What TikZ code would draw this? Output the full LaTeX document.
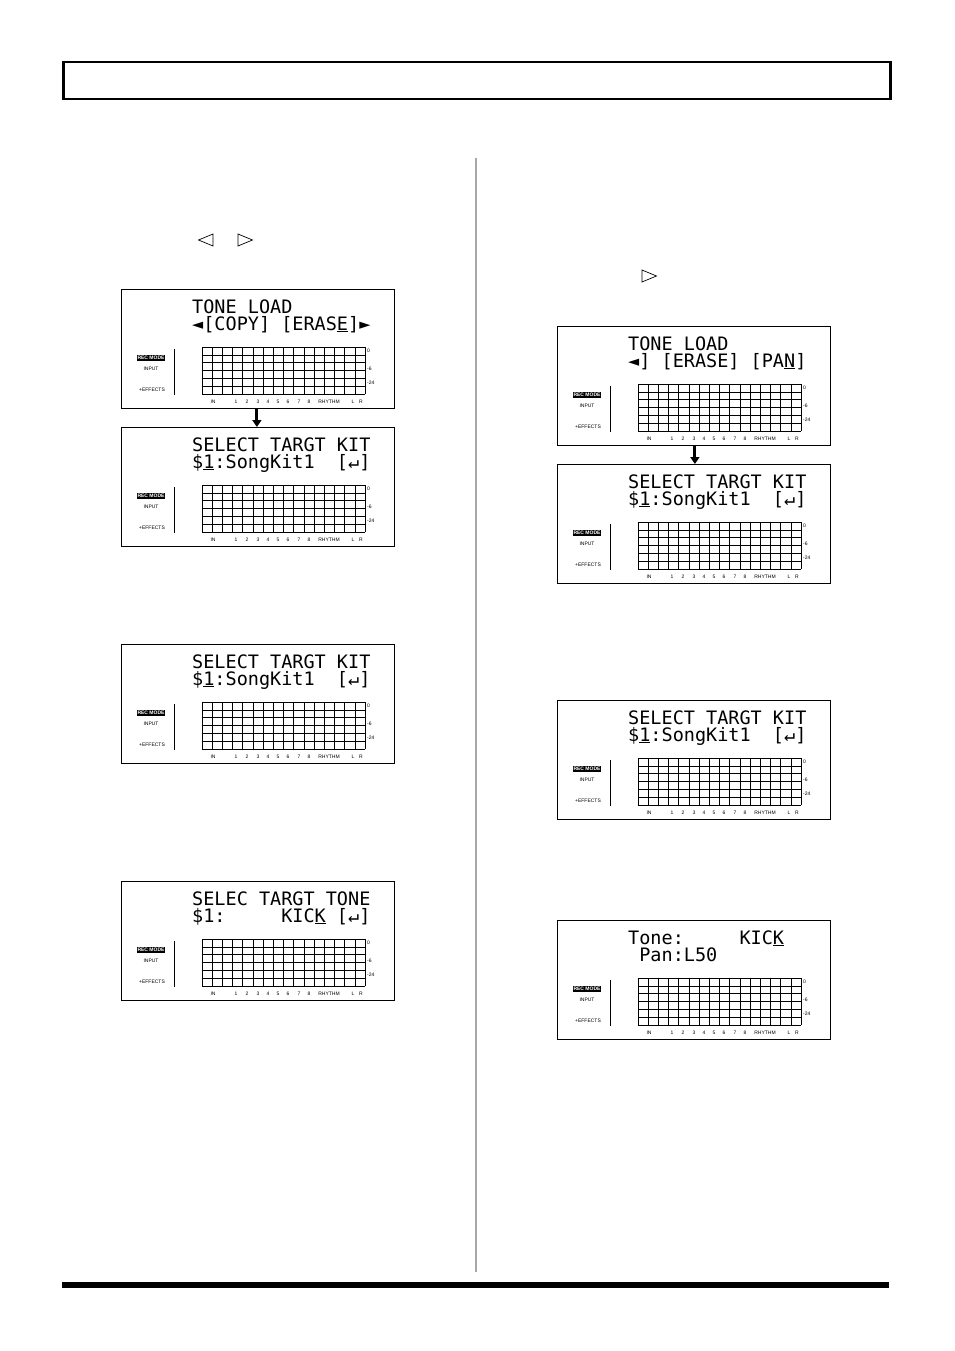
\documentclass[tikz,border=0pt]{standalone}
\usepackage{fontspec}
\usetikzlibrary{arrows.meta,shapes.geometric}
\setsansfont{Liberation Sans}
\newfontfamily\lcdfont{DejaVu Sans Mono}
\begin{document}
\begin{tikzpicture}[x=1pt,y=-1pt,
  lcdtxt/.style={anchor=base west,inner sep=0pt,font=\lcdfont\fontsize{18.5}{18.5}\selectfont},
  tiny/.style={inner sep=0pt,font=\sffamily\fontsize{5}{5}\selectfont},
  panel/.style={draw,line width=0.8pt},
  darr/.style={-{Triangle[width=9pt,length=7pt]},line width=3pt},
  tri/.style={draw,isosceles triangle,minimum height=8,minimum width=12,inner sep=0,line width=0.7pt}]
\useasboundingbox (0,0) rectangle (954,1351);
\node[draw,line width=2.5pt,minimum width=827,minimum height=37,anchor=north west,inner sep=0] (hdr) at (62,61) {};
\fill (62,1282) rectangle (889,1288);
\draw[gray!70,line width=1.2pt] (476,158) -- (476,1272);
\newcommand{\lcd}[5]{%
\begin{scope}[shift={(#1,#2)}]
 \node[panel,minimum width=273,minimum height=119,anchor=north west,inner sep=0] (#3) at (0,0) {};
 \foreach \i in {0,...,16} \draw[line width=0.6pt] ({81+\i*10.1875},58) -- ({81+\i*10.1875},105);
 \foreach \j in {0,...,6} \draw[line width=0.6pt] (81,{58+\j*7.833}) -- (244,{58+\j*7.833});
 \node[tiny,fill=black,text=white,inner sep=0.8pt] at (30,69) {\textbf{REC MODE}};
 \node[tiny] at (30,80) {INPUT};
 \node[tiny] at (31,101) {+EFFECTS};
 \draw[line width=0.8pt] (53,60) -- (53,106);
 \node[tiny,anchor=west] at (246,62) {0};
 \node[tiny,anchor=west] at (246,80) {-6};
 \node[tiny,anchor=west] at (246,94) {-24};
 \foreach \t/\xx in {IN/92,1/115,2/126,3/137,4/147,5/157,6/167,7/178,8/188,RHYTHM/208,L/232,R/240}
   \node[tiny] at (\xx,113) {\t};
 \node[lcdtxt] at (71,24) {#4};
 \node[lcdtxt] at (71,41) {#5};
\end{scope}}
\lcd{121}{289}{la}{TONE~LOAD}{◄[COPY]~[ERAS\underline{E}]►}
\lcd{121}{427}{lb}{SELECT~TARGT~KIT}{\$\underline{1}:SongKit1~~[↵]}
\lcd{121}{644}{lc}{SELECT~TARGT~KIT}{\$\underline{1}:SongKit1~~[↵]}
\lcd{121}{881}{ld}{SELEC~TARGT~TONE}{\$1:~~~~~KIC\underline{K}~[↵]}
\lcd{557}{326}{ra}{TONE~LOAD}{◄]~[ERASE]~[PA\underline{N}]}
\lcd{557}{464}{rb}{SELECT~TARGT~KIT}{\$\underline{1}:SongKit1~~[↵]}
\lcd{557}{700}{rc}{SELECT~TARGT~KIT}{\$\underline{1}:SongKit1~~[↵]}
\lcd{557}{920}{rd}{Tone:~~~~~KIC\underline{K}}{~Pan:L50}
\draw[darr] (la.south) ++(-1,0) coordinate (a1) (a1) -- (a1 |- lb.north);
\draw[darr] (ra.south) ++(1,0) coordinate (a2) (a2) -- (a2 |- rb.north);
\node[tri,shape border rotate=180] (t1) at (209,240) {};
\node[tri] (t2) at (242,240) {};
\node[tri] (t3) at (646,276) {};
\end{tikzpicture}
\end{document}
